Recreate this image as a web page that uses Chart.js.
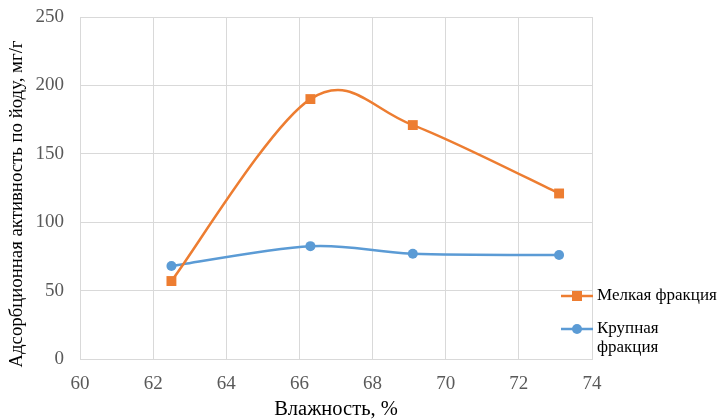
<!DOCTYPE html>
<html>
<head>
<meta charset="utf-8">
<script src="https://cdn.jsdelivr.net/npm/chart.js@4.4.1/dist/chart.umd.min.js"></script>
<style>
  html, body { margin: 0; padding: 0; background: #fff; }
  #wrap { width: 719px; height: 420px; position: relative; }
</style>
</head>
<body>
<div id="wrap"><canvas id="c" width="719" height="420"></canvas></div>
<script>
// ---- data ----
const humidity = [62.5, 66.3, 69.1, 73.1];
const fineFraction = [57, 190, 171, 121];
const coarseFraction = [68, 82.5, 77, 76];
const seriesNames = ['Мелкая фракция', ['Крупная', 'фракция']];
const xAxisTitle = 'Влажность, %';
const yAxisTitle = 'Адсорбционная активность по йоду, мг/г';
const xRange = [60, 74, 2];
const yRange = [0, 250, 50];

const ORANGE = '#ED7D31';
const BLUE = '#5B9BD5';
const FONT = '"Liberation Serif", "Times New Roman", serif';

const toPoints = (xs, ys) => xs.map((x, i) => ({x: x, y: ys[i]}));

// Excel-like smoothing: control points at ±(next - prev)/6
const excelSmooth = {
  id: 'excelSmooth',
  afterDatasetsUpdate(chart) {
    chart.data.datasets.forEach((ds, i) => {
      const meta = chart.getDatasetMeta(i);
      const pts = meta.data;
      pts.forEach((p, k) => {
        const prev = pts[k - 1] || p;
        const next = pts[k + 1] || p;
        const dx = (next.x - prev.x) / 6;
        const dy = (next.y - prev.y) / 6;
        p.cp1x = p.x - dx; p.cp1y = p.y - dy;
        p.cp2x = p.x + dx; p.cp2y = p.y + dy;
      });
      if (meta.dataset) meta.dataset._pointsUpdated = true;
    });
  }
};

const legendPlugin = {
  id: 'customLegend',
  afterDraw(chart) {
    const ctx = chart.ctx;
    const items = [
      {label: seriesNames[0], color: ORANGE, style: 'rect', y: 296},
      {label: seriesNames[1], color: BLUE, style: 'circle', y: 329}
    ];
    ctx.save();
    items.forEach(it => {
      ctx.strokeStyle = it.color;
      ctx.lineWidth = 2.5;
      ctx.beginPath();
      ctx.moveTo(561, it.y);
      ctx.lineTo(593, it.y);
      ctx.stroke();
      ctx.fillStyle = it.color;
      if (it.style === 'rect') {
        ctx.fillRect(572, it.y - 5, 10, 10);
      } else {
        ctx.beginPath();
        ctx.arc(577, it.y, 5, 0, Math.PI * 2);
        ctx.fill();
      }
      ctx.fillStyle = '#000';
      ctx.font = '17px ' + FONT;
      ctx.textBaseline = 'middle';
      ctx.textAlign = 'left';
      const lines = Array.isArray(it.label) ? it.label : [it.label];
      lines.forEach((ln, k) => ctx.fillText(ln, 597, it.y + k * 19));
    });
    // y axis title
    ctx.translate(17, 204);
    ctx.rotate(-Math.PI / 2);
    ctx.font = '18.8px ' + FONT;
    ctx.textAlign = 'center';
    ctx.textBaseline = 'middle';
    ctx.fillStyle = '#000';
    ctx.fillText(yAxisTitle, 0, 0);
    ctx.restore();
  }
};

new Chart(document.getElementById('c'), {
  type: 'line',
  data: {
    datasets: [
      {
        label: 'Мелкая фракция',
        data: toPoints(humidity, fineFraction),
        borderColor: ORANGE,
        backgroundColor: ORANGE,
        borderWidth: 2.5,
        pointStyle: 'rect',
        pointRadius: 7,
        pointHoverRadius: 7,
        pointBorderWidth: 0,
        tension: 0.38,
        fill: false
      },
      {
        label: 'Крупная фракция',
        data: toPoints(humidity, coarseFraction),
        borderColor: BLUE,
        backgroundColor: BLUE,
        borderWidth: 2.5,
        pointStyle: 'circle',
        pointRadius: 5,
        pointHoverRadius: 5,
        pointBorderWidth: 0,
        tension: 0.38,
        fill: false
      }
    ]
  },
  options: {
    responsive: false,
    animation: false,
    devicePixelRatio: 1,
    layout: { padding: { top: 17, right: 127, left: 0, bottom: 0 } },
    plugins: {
      legend: { display: false },
      tooltip: { enabled: false }
    },
    scales: {
      x: {
        type: 'linear',
        min: xRange[0], max: xRange[1],
        ticks: { stepSize: xRange[2], color: '#595959', font: { family: FONT, size: 19 }, padding: 14 },
        grid: { color: '#d9d9d9', drawTicks: false, lineWidth: 1 },
        border: { color: '#d9d9d9' },
        title: { display: true, text: xAxisTitle, color: '#000', font: { family: FONT, size: 20.5, lineHeight: 1 }, padding: { top: 0, bottom: 0 } },
        afterFit(scale) { scale.height = 61; scale.paddingLeft = 0; scale.paddingRight = 0; }
      },
      y: {
        min: yRange[0], max: yRange[1],
        ticks: { stepSize: yRange[2], color: '#595959', font: { family: FONT, size: 19 }, padding: 16 },
        grid: { color: '#d9d9d9', drawTicks: false, lineWidth: 1 },
        border: { color: '#d9d9d9' },
        title: { display: false },
        afterFit(scale) { scale.width = 80; scale.paddingTop = 0; scale.paddingBottom = 0; }
      }
    }
  },
  plugins: [excelSmooth, legendPlugin]
});
</script>
</body>
</html>
